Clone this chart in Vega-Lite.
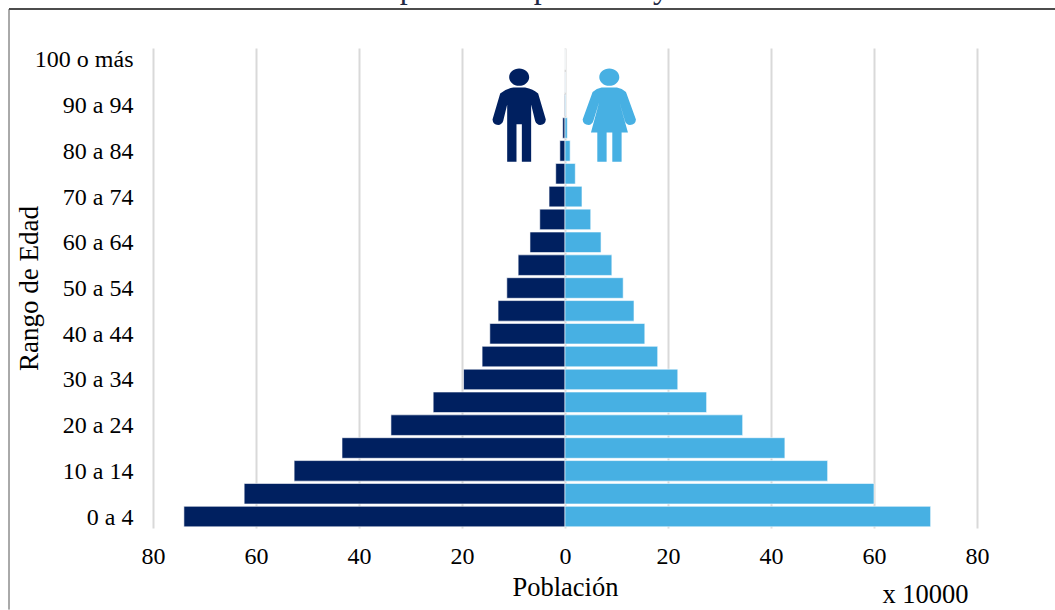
{
"$schema":"https://vega.github.io/schema/vega-lite/v6.json",
"width":824,"height":480,
"autosize":{"type":"none"},
"padding":{"left":153,"top":48,"right":78,"bottom":82},
"background":"white",
"config":{"view":{"stroke":null},"font":"Liberation Serif"},
"resolve":{"scale":{"y":"independent"},"axis":{"x":"independent"}},
"layer":[
{"data":{"values":[
{"edad":"0 a 4","sexo":"Hombres","valor":-74},{"edad":"5 a 9","sexo":"Hombres","valor":-62.3},{"edad":"10 a 14","sexo":"Hombres","valor":-52.6},{"edad":"15 a 19","sexo":"Hombres","valor":-43.3},{"edad":"20 a 24","sexo":"Hombres","valor":-33.8},{"edad":"25 a 29","sexo":"Hombres","valor":-25.6},{"edad":"30 a 34","sexo":"Hombres","valor":-19.7},{"edad":"35 a 39","sexo":"Hombres","valor":-16.1},{"edad":"40 a 44","sexo":"Hombres","valor":-14.6},{"edad":"45 a 49","sexo":"Hombres","valor":-13},{"edad":"50 a 54","sexo":"Hombres","valor":-11.3},{"edad":"55 a 59","sexo":"Hombres","valor":-9.1},{"edad":"60 a 64","sexo":"Hombres","valor":-6.8},{"edad":"65 a 69","sexo":"Hombres","valor":-4.9},{"edad":"70 a 74","sexo":"Hombres","valor":-3.1},{"edad":"75 a 79","sexo":"Hombres","valor":-1.8},{"edad":"80 a 84","sexo":"Hombres","valor":-1},{"edad":"85 a 89","sexo":"Hombres","valor":-0.45},{"edad":"90 a 94","sexo":"Hombres","valor":-0.12},{"edad":"95 a 99","sexo":"Hombres","valor":-0.03},{"edad":"100 o más","sexo":"Hombres","valor":-0.01},
{"edad":"0 a 4","sexo":"Mujeres","valor":71},{"edad":"5 a 9","sexo":"Mujeres","valor":60},{"edad":"10 a 14","sexo":"Mujeres","valor":51},{"edad":"15 a 19","sexo":"Mujeres","valor":42.7},{"edad":"20 a 24","sexo":"Mujeres","valor":34.5},{"edad":"25 a 29","sexo":"Mujeres","valor":27.5},{"edad":"30 a 34","sexo":"Mujeres","valor":21.9},{"edad":"35 a 39","sexo":"Mujeres","valor":18},{"edad":"40 a 44","sexo":"Mujeres","valor":15.5},{"edad":"45 a 49","sexo":"Mujeres","valor":13.4},{"edad":"50 a 54","sexo":"Mujeres","valor":11.3},{"edad":"55 a 59","sexo":"Mujeres","valor":9.1},{"edad":"60 a 64","sexo":"Mujeres","valor":7},{"edad":"65 a 69","sexo":"Mujeres","valor":5},{"edad":"70 a 74","sexo":"Mujeres","valor":3.3},{"edad":"75 a 79","sexo":"Mujeres","valor":2},{"edad":"80 a 84","sexo":"Mujeres","valor":1},{"edad":"85 a 89","sexo":"Mujeres","valor":0.45},{"edad":"90 a 94","sexo":"Mujeres","valor":0.12},{"edad":"95 a 99","sexo":"Mujeres","valor":0.03},{"edad":"100 o más","sexo":"Mujeres","valor":0.01}
]},
"mark":{"type":"bar","stroke":"white","strokeWidth":0.6},
"encoding":{
"x":{"field":"valor","type":"quantitative","stack":null,"scale":{"domain":[-80,80],"nice":false},
"axis":{"values":[-80,-60,-40,-20,0,20,40,60,80],"labelExpr":"abs(datum.value)","grid":true,"gridColor":"#d9d9d9","gridWidth":2,"domain":false,"ticks":false,"labelFontSize":24,"labelColor":"#000","labelPadding":16,"labelOverlap":false,"labelFlush":false,"labelBound":false,"title":"Población","titleFontSize":26.5,"titleFontWeight":"normal","titleColor":"#000","titleBaseline":"alphabetic","titleX":412,"titleY":67}},
"y":{"field":"edad","type":"nominal","scale":{"type":"band","paddingInner":0.1,"paddingOuter":0.05},
"sort":["100 o más","95 a 99","90 a 94","85 a 89","80 a 84","75 a 79","70 a 74","65 a 69","60 a 64","55 a 59","50 a 54","45 a 49","40 a 44","35 a 39","30 a 34","25 a 29","20 a 24","15 a 19","10 a 14","5 a 9","0 a 4"],
"axis":{"values":["100 o más","90 a 94","80 a 84","70 a 74","60 a 64","50 a 54","40 a 44","30 a 34","20 a 24","10 a 14","0 a 4"],"domain":false,"ticks":false,"grid":false,"labelFontSize":24,"labelColor":"#000","labelPadding":20,"labelOffset":1,"labelOverlap":false,"title":"Rango de Edad","titleFontSize":27,"titleFontWeight":"normal","titleColor":"#000","titleAnchor":"middle","titleX":-110,"titleY":240}},
"color":{"field":"sexo","type":"nominal","legend":null,"scale":{"domain":["Hombres","Mujeres"],"range":["#002060","#47B0E3"]}}
}},
{"layer":[
{"data":{"values":[{"figura":"Hombre"}]},
"mark":{"type":"point","filled":true,"opacity":1,"fill":"#002060","stroke":null,"shape":"M-0.213 -0.809A0.213 0.184 0 1 1 0.213 -0.809A0.213 0.184 0 1 1 -0.213 -0.809ZM-0.404 -0.461Q-0.3 -0.56 -0.121 -0.589L0.128 -0.589Q0.3 -0.56 0.404 -0.461L0.567 0.092Q0.56 0.2 0.447 0.206Q0.37 0.2 0.34 0.121L0.255 -0.227L0.255 0.993L0.057 0.993L0.057 0.191L-0.057 0.191L-0.057 0.993L-0.255 0.993L-0.255 -0.227L-0.34 0.121Q-0.37 0.2 -0.447 0.206Q-0.56 0.2 -0.567 0.092Z"},
"encoding":{"x":{"datum":-8.9,"type":"quantitative","axis":null,"scale":{"domain":[-80,80],"nice":false}},"y":{"datum":0.86,"type":"quantitative","axis":null,"scale":{"domain":[0,1],"nice":false}},"size":{"value":8836}}},
{"data":{"values":[{"figura":"Mujer"}]},
"mark":{"type":"point","filled":true,"opacity":1,"fill":"#47B0E3","stroke":null,"shape":"M-0.213 -0.809A0.213 0.184 0 1 1 0.213 -0.809A0.213 0.184 0 1 1 -0.213 -0.809ZM-0.355 -0.496Q-0.27 -0.57 -0.163 -0.589L0.163 -0.589Q0.27 -0.57 0.355 -0.496L0.567 0.092Q0.56 0.2 0.44 0.206Q0.36 0.2 0.333 0.121L0.213 -0.284L0.397 0.369L0.262 0.369L0.262 0.993L0.064 0.993L0.064 0.369L-0.057 0.369L-0.057 0.993L-0.255 0.993L-0.255 0.369L-0.39 0.369L-0.213 -0.284L-0.34 0.121Q-0.37 0.2 -0.44 0.206Q-0.56 0.2 -0.567 0.092Z"},
"encoding":{"x":{"datum":8.6,"type":"quantitative","axis":null,"scale":{"domain":[-80,80],"nice":false}},"y":{"datum":0.86,"type":"quantitative","axis":null,"scale":{"domain":[0,1],"nice":false}},"size":{"value":8836}}},
{"data":{"values":[{"texto":"x 10000"}]},
"mark":{"type":"text","fontSize":26.5,"color":"#000","baseline":"alphabetic","align":"center"},
"encoding":{"x":{"datum":70,"type":"quantitative","axis":null,"scale":{"domain":[-80,80],"nice":false}},"y":{"datum":-0.156,"type":"quantitative","axis":null,"scale":{"domain":[0,1],"nice":false}},"text":{"field":"texto"}}},
{"data":{"values":[{"texto":"Pirámide de población por edad y sexo"}]},
"mark":{"type":"text","fontSize":32,"color":"#1F2A44","baseline":"alphabetic","align":"center"},
"encoding":{"x":{"datum":-15.2,"type":"quantitative","axis":null,"scale":{"domain":[-80,80],"nice":false}},"y":{"datum":1.105,"type":"quantitative","axis":null,"scale":{"domain":[0,1],"nice":false}},"text":{"field":"texto"}}},
{"data":{"values":[{"linea":"superior"}]},
"mark":{"type":"rule","color":"#111","strokeWidth":1.5},
"encoding":{"x":{"datum":-107.96,"type":"quantitative","axis":null,"scale":{"domain":[-80,80],"nice":false}},"x2":{"datum":96},"y":{"datum":1.0813,"type":"quantitative","axis":null,"scale":{"domain":[0,1],"nice":false}}}},
{"data":{"values":[{"linea":"izquierda"}]},
"mark":{"type":"rule","color":"#555","strokeWidth":1},
"encoding":{"x":{"datum":-107.96,"type":"quantitative","axis":null,"scale":{"domain":[-80,80],"nice":false}},"y":{"datum":1.0813,"type":"quantitative","axis":null,"scale":{"domain":[0,1],"nice":false}},"y2":{"datum":-0.17}}}
]}
]}
